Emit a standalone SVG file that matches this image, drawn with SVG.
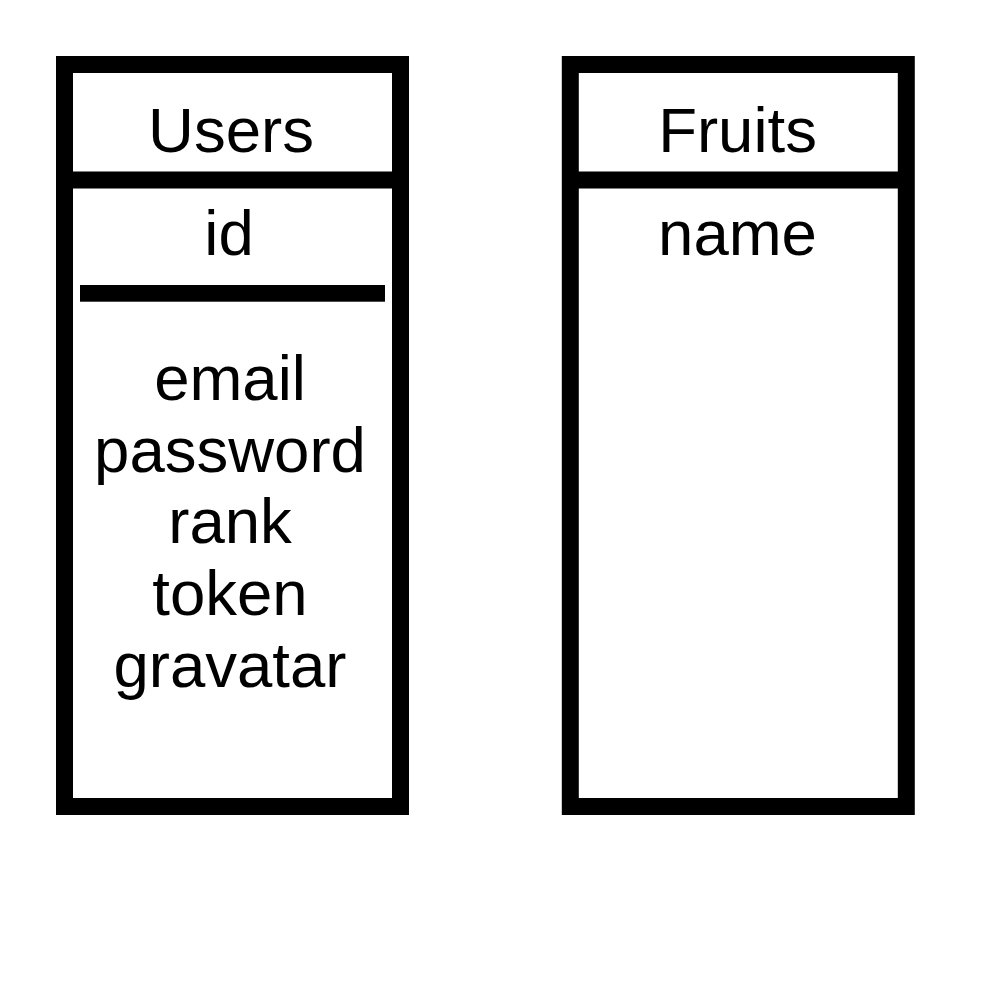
<svg xmlns="http://www.w3.org/2000/svg" width="1000" height="1000" viewBox="0 0 1000 1000">
<style>
.box{fill:#fff;stroke:#000;stroke-width:17}
.div{stroke:#000;stroke-width:17}
.t{font-family:"Liberation Sans",Arial,sans-serif;font-size:63.5px;fill:#000;text-anchor:middle}
</style>
<rect width="1000" height="1000" fill="#fff"/>
<g id="users">
<rect class="box" x="64.5" y="64.5" width="336" height="742"/>
<line class="div" x1="64.5" y1="180" x2="400.5" y2="180"/>
<text class="t" x="231" y="152">Users</text>
<text class="t" x="229" y="255">id</text>
<rect x="80" y="285" width="305" height="16.7" fill="#000"/>
<text class="t" x="230" y="400">email</text>
<text class="t" x="230" y="471.7">password</text>
<text class="t" x="230" y="543.4">rank</text>
<text class="t" x="230" y="615.1">token</text>
<text class="t" x="230" y="686.8">gravatar</text>
</g>
<g id="fruits">
<rect class="box" x="570.3" y="64.5" width="336" height="742"/>
<line class="div" x1="570.3" y1="180" x2="906.3" y2="180"/>
<text class="t" x="737.5" y="152">Fruits</text>
<text class="t" x="737.5" y="255">name</text>
</g>
<g id="connectors"/>
</svg>
